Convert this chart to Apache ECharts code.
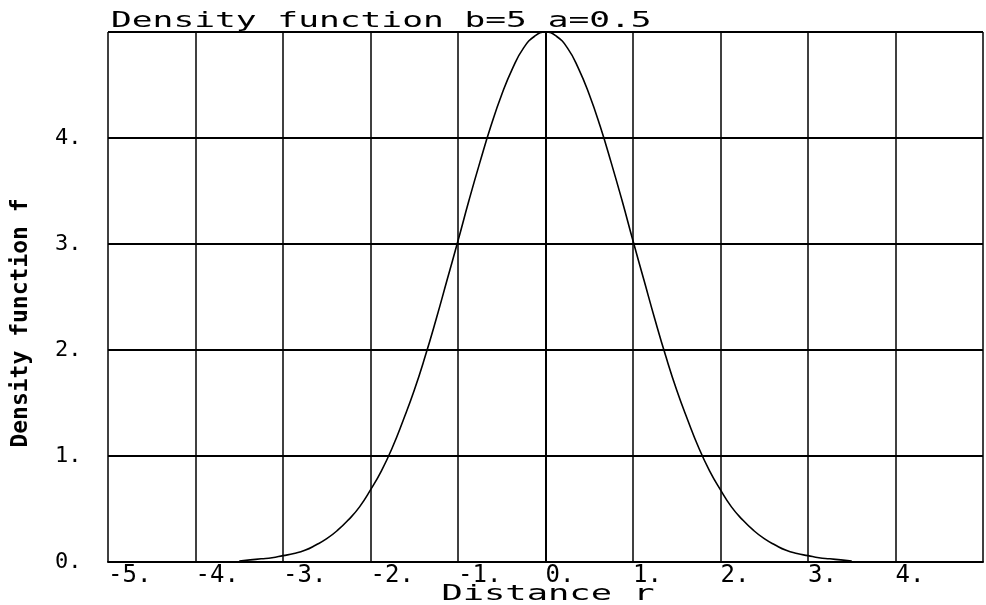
<!DOCTYPE html>
<html>
<head>
<meta charset="utf-8">
<script src="https://cdn.jsdelivr.net/npm/echarts@6/dist/echarts.min.js"></script>
<style>html,body{margin:0;padding:0;background:#fff;}#c{width:986px;height:605px;}</style>
</head>
<body>
<div id="c"></div>
<script>
// Data
var distance = [-3.5, -3.375, -3.25, -3.125, -3.0, -2.875, -2.75, -2.625, -2.5, -2.375, -2.25, -2.125,
                -2.0, -1.875, -1.75, -1.625, -1.5, -1.375, -1.25, -1.125, -1.0, -0.875, -0.75, -0.625,
                -0.5, -0.375, -0.25, -0.125, 0.0, 0.125, 0.25, 0.375, 0.5, 0.625, 0.75, 0.875,
                1.0, 1.125, 1.25, 1.375, 1.5, 1.625, 1.75, 1.875, 2.0, 2.125, 2.25, 2.375,
                2.5, 2.625, 2.75, 2.875, 3.0, 3.125, 3.25, 3.375, 3.5];
var density = [0.01, 0.02, 0.03, 0.04, 0.06, 0.08, 0.11, 0.16, 0.22, 0.30, 0.40, 0.52,
               0.68, 0.86, 1.08, 1.34, 1.62, 1.94, 2.29, 2.66, 3.03, 3.41, 3.77, 4.11,
               4.41, 4.66, 4.85, 4.96, 5.00, 4.96, 4.85, 4.66, 4.41, 4.11, 3.77, 3.41,
               3.03, 2.66, 2.29, 1.94, 1.62, 1.34, 1.08, 0.86, 0.68, 0.52, 0.40, 0.30,
               0.22, 0.16, 0.11, 0.08, 0.06, 0.04, 0.03, 0.02, 0.01];
var xTicks = [-5, -4, -3, -2, -1, 0, 1, 2, 3, 4];
var yTicks = [0, 1, 2, 3, 4];
var titleText = 'Density function b=5 a=0.5';
var xName = 'Distance r';
var yName = 'Density function f';

var pts = distance.map(function (x, i) { return [x, density[i]]; });
var mono = 'DejaVu Sans Mono';

var chart = echarts.init(document.getElementById('c'), null, {renderer: 'canvas'});
chart.setOption({
  animation: false,
  backgroundColor: '#fff',
  grid: {left: 108, top: 32, width: 884, height: 530, containLabel: false},
  xAxis: {
    type: 'value', min: -5, max: 5, interval: 1,
    axisLine: {show: true, onZero: false, lineStyle: {color: '#000', width: 2}},
    axisTick: {show: false},
    splitLine: {show: true, lineStyle: {color: '#000', width: 1.5}},
    axisLabel: {
      color: '#000', fontFamily: mono, fontSize: 24, align: 'left', margin: 2,
      formatter: function (v) { return xTicks.indexOf(v) >= 0 ? v + '.' : ''; }
    }
  },
  yAxis: {
    type: 'value', min: 0, max: 5, interval: 1,
    axisLine: {show: true, lineStyle: {color: '#000', width: 2}},
    axisTick: {show: false},
    splitLine: {show: true, lineStyle: {color: '#000', width: 2}},
    axisLabel: {
      color: '#000', fontFamily: mono, fontSize: 22, align: 'left', margin: 53,
      formatter: function (v) { return yTicks.indexOf(v) >= 0 ? v + '.' : ''; }
    }
  },
  graphic: [
    {type: 'text', x: 111, y: 21, scaleX: 1.57, scaleY: 1,
     style: {text: titleText, fontFamily: mono, fontSize: 22, fill: '#000', align: 'left', verticalAlign: 'middle'}},
    {type: 'text', x: 548, y: 594, scaleX: 1.61, scaleY: 1,
     style: {text: xName, fontFamily: mono, fontSize: 22, fill: '#000', align: 'center', verticalAlign: 'middle'}},
    {type: 'text', x: 21, y: 323, rotation: Math.PI / 2, scaleX: 1.0, scaleY: 1,
     style: {text: yName, fontFamily: mono, fontSize: 23, fontWeight: 'bold', fill: '#000', align: 'center', verticalAlign: 'middle'}}
  ],
  series: [{
    type: 'line', data: pts, smooth: true, showSymbol: false, clip: true,
    lineStyle: {color: '#000', width: 1.6}
  }]
});
</script>
</body>
</html>
